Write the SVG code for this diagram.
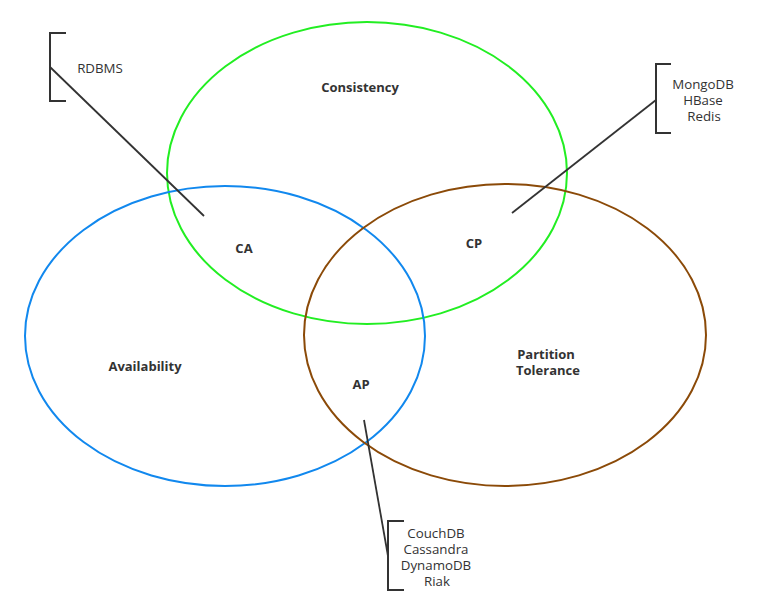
<svg xmlns="http://www.w3.org/2000/svg" width="781" height="615" viewBox="0 0 781 615">
<style>
.t{font-family:"Open Sans","Noto Sans",sans-serif;font-size:13.3px;fill:#333;text-anchor:middle}
.b{font-weight:bold;font-size:13px}
.br{fill:none;stroke:#333;stroke-width:2}
.ln{fill:none;stroke:#333;stroke-width:1.8}
</style>
<rect width="781" height="615" fill="#fff"/>
<g id="consistency">
<ellipse cx="367" cy="173" rx="200" ry="151" fill="none" stroke="#22ee22" stroke-width="2"/>
<text class="t b" x="360" y="92">Consistency</text>
</g>
<g id="availability">
<ellipse cx="225" cy="336" rx="200" ry="150" fill="none" stroke="#1188ee" stroke-width="2"/>
<text class="t b" x="145" y="371">Availability</text>
</g>
<g id="partition">
<ellipse cx="505" cy="335" rx="201" ry="151" fill="none" stroke="#8b4a08" stroke-width="2"/>
<text class="t b" x="546" y="359">Partition</text>
<text class="t b" x="548" y="375">Tolerance</text>
</g>
<g id="ca"><text class="t b" x="244" y="253">CA</text></g>
<g id="cp"><text class="t b" x="474" y="248">CP</text></g>
<g id="ap"><text class="t b" x="361" y="389">AP</text></g>
<g id="rdbms">
<path class="br" d="M66,33 H50 V101 H66"/>
<text class="t" x="100" y="73">RDBMS</text>
</g>
<g id="cp-list">
<path class="br" d="M671,64 H656 V133 H671"/>
<text class="t" x="703" y="89">MongoDB</text>
<text class="t" x="703" y="105">HBase</text>
<text class="t" x="704" y="121">Redis</text>
</g>
<g id="ap-list">
<path class="br" d="M404,521 H388 V590 H404"/>
<text class="t" x="436" y="538">CouchDB</text>
<text class="t" x="436" y="554">Cassandra</text>
<text class="t" x="436" y="570">DynamoDB</text>
<text class="t" x="437" y="586">Riak</text>
</g>
<g id="connectors">
<line class="ln" x1="50" y1="67" x2="204" y2="216"/>
<line class="ln" x1="656" y1="100" x2="512" y2="213"/>
<line class="ln" x1="364" y1="420" x2="388" y2="556"/>
</g>
</svg>
